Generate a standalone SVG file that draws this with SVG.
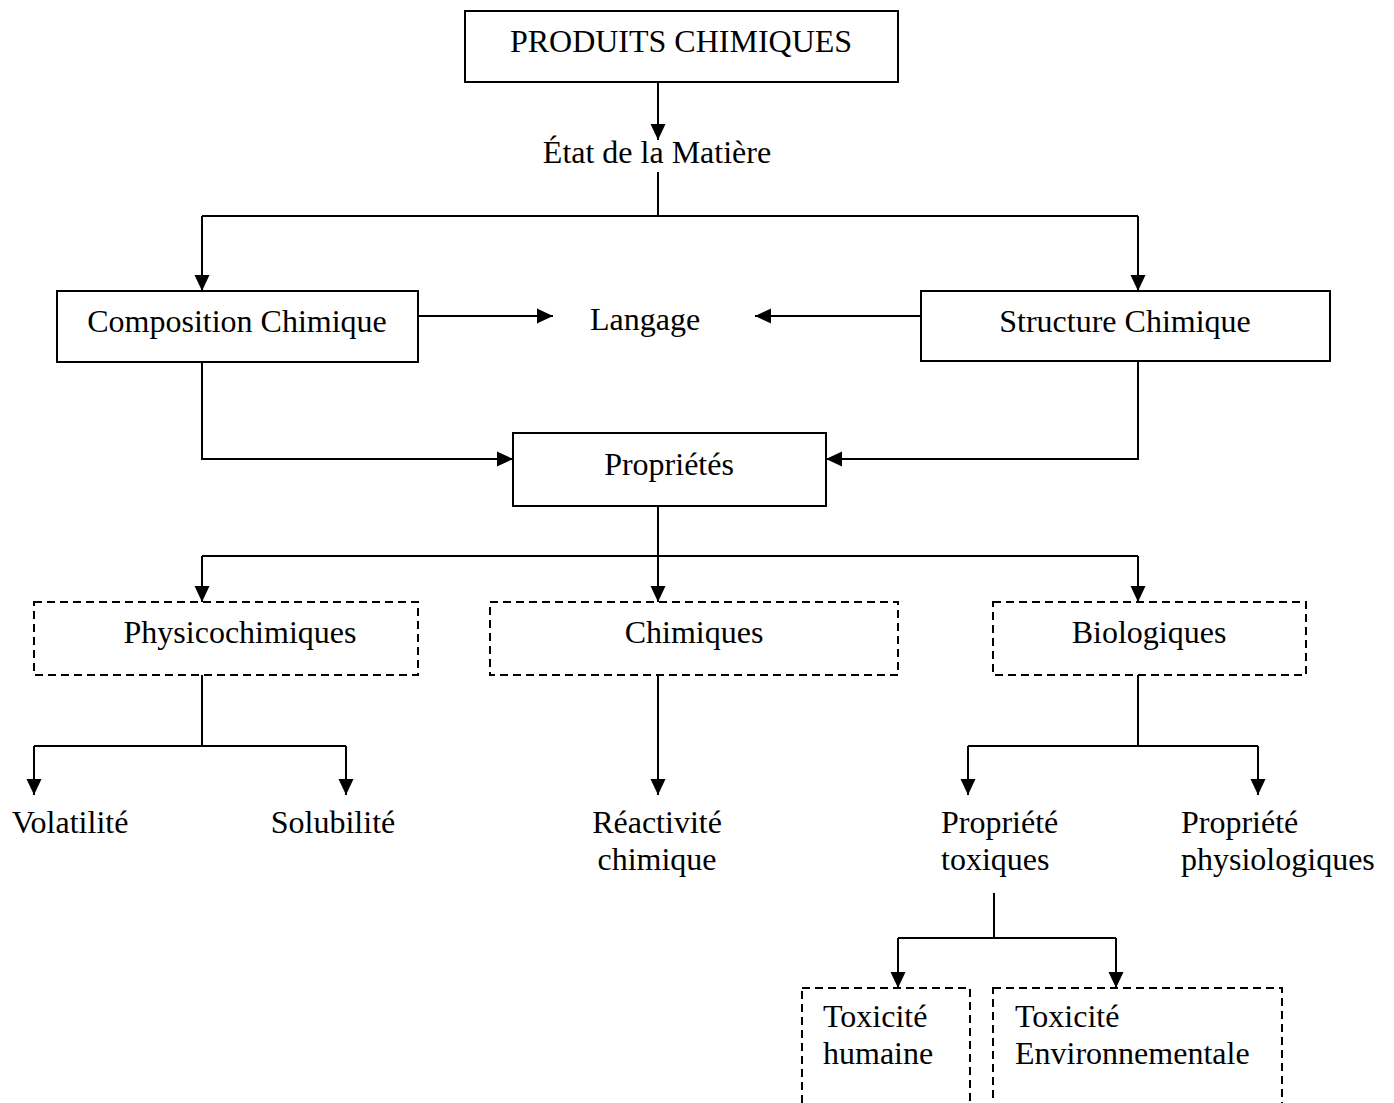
<svg xmlns="http://www.w3.org/2000/svg" width="1394" height="1103" viewBox="0 0 1394 1103">
<style>
text{font-family:"Liberation Serif","Times New Roman",serif;font-size:32px;fill:#000}
.c{text-anchor:middle}
.box{fill:#fff;stroke:#000;stroke-width:2}
.dash{fill:#fff;stroke:#000;stroke-width:2;stroke-dasharray:8 5}
.ln{fill:none;stroke:#000;stroke-width:2}
.ar{fill:none;stroke:#000;stroke-width:2;marker-end:url(#ah)}
</style>
<defs>
<marker id="ah" markerUnits="userSpaceOnUse" markerWidth="16" markerHeight="16" viewBox="0 0 16 16" refX="16" refY="8" orient="auto">
<path d="M0,0.5 L16,8 L0,15.5 Z" fill="#000"/>
</marker>
</defs>
<rect width="1394" height="1103" fill="#fff"/>
<g id="connectors">
<path class="ar" d="M658,82 V140"/>
<path class="ln" d="M658,172 V216 M202,216 H1138"/>
<path class="ar" d="M202,216 V291"/>
<path class="ar" d="M1138,216 V291"/>
<path class="ar" d="M418,316 H553"/>
<path class="ar" d="M921,316 H755"/>
<path class="ar" d="M202,362 V459 H513"/>
<path class="ar" d="M1138,361 V459 H826"/>
<path class="ln" d="M658,506 V556 M202,556 H1138"/>
<path class="ar" d="M202,556 V602"/>
<path class="ar" d="M658,556 V602"/>
<path class="ar" d="M1138,556 V602"/>
<path class="ln" d="M202,675 V746 M34,746 H346"/>
<path class="ar" d="M34,746 V795"/>
<path class="ar" d="M346,746 V795"/>
<path class="ar" d="M658,675 V795"/>
<path class="ln" d="M1138,675 V746 M968,746 H1258"/>
<path class="ar" d="M968,746 V795"/>
<path class="ar" d="M1258,746 V795"/>
<path class="ln" d="M994,893 V938 M898,938 H1116"/>
<path class="ar" d="M898,938 V988"/>
<path class="ar" d="M1116,938 V988"/>
</g>
<g id="produits"><rect class="box" x="465" y="11" width="433" height="71"/><text class="c" x="681" y="52">PRODUITS CHIMIQUES</text></g>
<g id="etat"><text class="c" x="657" y="163">État de la Matière</text></g>
<g id="composition"><rect class="box" x="57" y="291" width="361" height="71"/><text class="c" x="237" y="332">Composition Chimique</text></g>
<g id="langage"><text class="c" x="645" y="330">Langage</text></g>
<g id="structure"><rect class="box" x="921" y="291" width="409" height="70"/><text class="c" x="1125" y="332">Structure Chimique</text></g>
<g id="proprietes"><rect class="box" x="513" y="433" width="313" height="73"/><text class="c" x="669" y="475">Propriétés</text></g>
<g id="physico"><rect class="dash" x="34" y="602" width="384" height="73"/><text class="c" x="240" y="643">Physicochimiques</text></g>
<g id="chimiques"><rect class="dash" x="490" y="602" width="408" height="73"/><text class="c" x="694" y="643">Chimiques</text></g>
<g id="biologiques"><rect class="dash" x="993" y="602" width="313" height="73"/><text class="c" x="1149" y="643">Biologiques</text></g>
<g id="volatilite"><text class="c" x="70" y="833">Volatilité</text></g>
<g id="solubilite"><text class="c" x="333" y="833">Solubilité</text></g>
<g id="reactivite"><text class="c" x="657" y="833">Réactivité</text><text class="c" x="657" y="870">chimique</text></g>
<g id="toxiques"><text x="941" y="833">Propriété</text><text x="941" y="870">toxiques</text></g>
<g id="physiologiques"><text x="1181" y="833">Propriété</text><text x="1181" y="870">physiologiques</text></g>
<g id="toxhumaine"><rect class="dash" x="802" y="988" width="168" height="130"/><text x="823" y="1027">Toxicité</text><text x="823" y="1064">humaine</text></g>
<g id="toxenv"><rect class="dash" x="993" y="988" width="289" height="130"/><text x="1015" y="1027">Toxicité</text><text x="1015" y="1064">Environnementale</text></g>
</svg>
